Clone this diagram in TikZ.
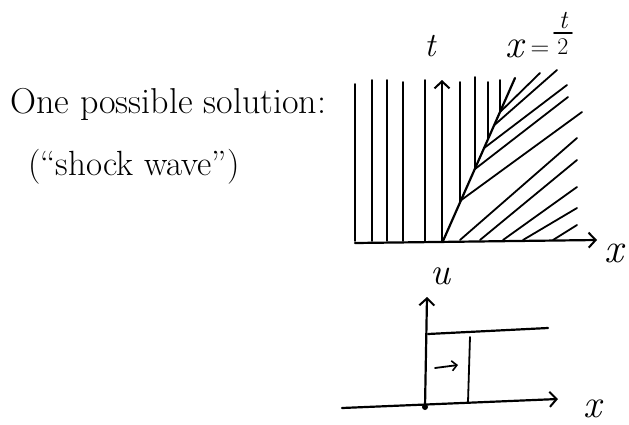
\documentclass[tikz,border=0pt]{standalone}
\usetikzlibrary{arrows.meta,calc}
\begin{document}
\begin{tikzpicture}[x=1pt,y=-1pt,line cap=round,line join=round,
  ink/.style={line width=2.2pt},
  thin ink/.style={line width=1.8pt},
  barb/.style={-{Straight Barb[length=7pt,width=15pt,line width=2pt]}},
  smallbarb/.style={-{Straight Barb[length=5pt,width=10pt,line width=1.6pt]}},
  lbl/.style={inner sep=0pt,font=\itshape}]
\useasboundingbox (0,0) rectangle (629,424);

% texts
\node[inner sep=0pt,anchor=base west] (title) at (10,113) {\fontsize{36}{40}\selectfont One possible solution:};
\node[inner sep=0pt,anchor=base west] (sub) at (28,175) {\fontsize{35}{38}\selectfont (``shock wave'')};

% top diagram
\coordinate (O) at (443,241);
\coordinate (S) at (515,78);
\coordinate (xs) at (355,243);
\coordinate (xe) at (597,240);
\coordinate (tb) at (442,242);
\coordinate (te) at (442,80);
\draw[ink,barb] (xs) -- (xe);
\draw[ink,barb] (tb) -- (te);
\node[lbl] (tl) at (430,46) {\fontsize{34}{34}\selectfont t};
\node[lbl] (xl) at (614,253) {\fontsize{42}{42}\selectfont x};
% x = t/2
\node[lbl,anchor=base] (shx) at (514,57) {\fontsize{40}{40}\selectfont x};
\node[inner sep=0pt,anchor=base] (sheq) at (540,55) {\fontsize{26}{26}\selectfont =};
\coordinate (bar1) at (554,33);
\coordinate (bar2) at (572,33);
\draw[line width=1.8pt] (bar1) -- (bar2);
\node[lbl,anchor=base] (sht) at ($(bar1)!0.5!(bar2)+(0,-5)$) {\fontsize{26}{26}\selectfont t};
\node[inner sep=0pt,anchor=base,font=\upshape] (sh2) at ($(bar1)!0.5!(bar2)+(0,21)$) {\fontsize{24}{24}\selectfont 2};

% left verticals
\foreach \x/\y in {355/84,372/80,387/80,403/82,425/80}
  \draw[thin ink] (\x,\y) -- (\x,241);
% shock line
\draw[ink] (O) -- (S);
% right verticals ending on shock
\foreach \x/\y/\p in {460/82/0.236,475/77/0.444,488/82/0.625,500/80/0.792}
  \draw[thin ink] (\x,\y) -- ($(O)!\p!(S)$);
% diagonals starting on shock
\foreach \p/\ex/\ey in {0.79/540/73,0.71/557/70,0.57/567/85,0.44/568/97,0.25/582/112}
  \draw[thin ink] ($(O)!\p!(S)$) -- (\ex,\ey);
% diagonals starting on x axis
\foreach \sx/\ex/\ey in {460/577/138,480/577/160,503/577/187,523/577/208,553/577/225}
  \draw[thin ink] (\sx,240) -- (\ex,\ey);

% bottom diagram
\coordinate (O2) at (425,407);
\coordinate (ue) at (427,297);
\coordinate (x2s) at (342,408);
\coordinate (x2e) at (558,399);
\draw[ink,barb] (O2) -- (ue);
\draw[ink,barb] (x2s) -- (x2e);
\fill (O2) circle (3pt);
\node[lbl] (ul) at (440,276) {\fontsize{38}{38}\selectfont u};
\node[lbl] (xl2) at (592,409) {\fontsize{40}{40}\selectfont x};
\coordinate (h1) at (428,334);
\coordinate (h2) at (548,328);
\draw[ink] (h1) -- (h2);
\coordinate (v1) at (470,337);
\coordinate (v2) at (468,402);
\draw[thin ink] (v1) -- (v2);
\coordinate (a1) at (435,368);
\coordinate (a2) at (458,365);
\draw[thin ink,smallbarb] (a1) -- (a2);
\end{tikzpicture}
\end{document}
